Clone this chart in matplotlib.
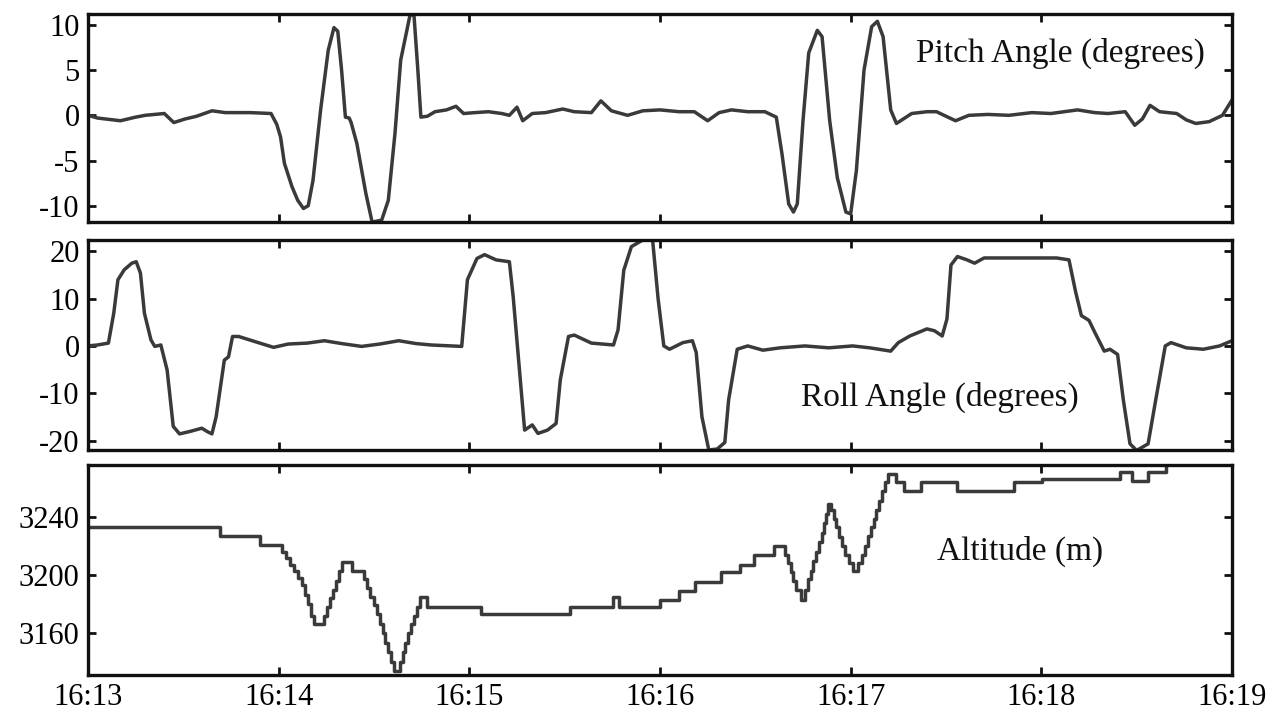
import numpy as np
import pandas as pd
import matplotlib
matplotlib.use("Agg")
import matplotlib.pyplot as plt
import matplotlib.dates as mdates

plt.rcParams['font.family'] = ['Liberation Serif', 'DejaVu Serif']
plt.rcParams['axes.unicode_minus'] = False

# minutes after 16:13 and readings
pitch_t = [0.00, 0.05, 0.17, 0.25, 0.30, 0.40, 0.45, 0.51, 0.57, 0.65, 0.72, 0.85, 0.96, 0.99,
           1.01, 1.03, 1.07, 1.10, 1.13, 1.155, 1.18, 1.22, 1.26, 1.29, 1.31, 1.33, 1.35, 1.37,
           1.38, 1.41, 1.457, 1.49, 1.54, 1.575, 1.61, 1.64, 1.69, 1.71, 1.73, 1.746, 1.78, 1.82,
           1.88, 1.93, 1.97, 2.03, 2.10, 2.17, 2.21, 2.25, 2.28, 2.33, 2.40, 2.49, 2.55, 2.64,
           2.69, 2.745, 2.83, 2.91, 3.00, 3.10, 3.18, 3.25, 3.31, 3.375, 3.46, 3.55, 3.61, 3.64,
           3.675, 3.70, 3.72, 3.75, 3.78, 3.825, 3.85, 3.89, 3.93, 3.975, 4.00, 4.03, 4.07, 4.11,
           4.14, 4.17, 4.21, 4.24, 4.32, 4.40, 4.45, 4.55, 4.62, 4.72, 4.83, 4.95, 5.05, 5.19,
           5.28, 5.35, 5.44, 5.49, 5.53, 5.57, 5.62, 5.71, 5.76, 5.81, 5.88, 5.95, 6.00]
pitch = [0.0, -0.3, -0.6, -0.2, 0.0, 0.2, -0.8, -0.4, -0.1, 0.5, 0.3, 0.3, 0.2, -1.0,
         -2.4, -5.3, -7.9, -9.4, -10.3, -10.0, -7.2, 0.6, 7.2, 9.7, 9.3, 5.0, -0.2, -0.3,
         -0.8, -3.1, -8.6, -11.8, -11.6, -9.4, -2.0, 6.1, 11.2, 11.0, 5.0, -0.2, -0.1, 0.4,
         0.6, 1.0, 0.2, 0.3, 0.4, 0.2, 0.0, 0.9, -0.6, 0.2, 0.3, 0.7, 0.4, 0.3,
         1.6, 0.5, 0.0, 0.5, 0.6, 0.4, 0.4, -0.6, 0.3, 0.6, 0.4, 0.4, -0.2, -4.3,
         -9.8, -10.7, -9.8, -0.6, 6.9, 9.4, 8.7, -0.6, -6.9, -10.7, -10.9, -6.1, 5.0, 9.8,
         10.4, 8.7, 0.6, -0.9, 0.2, 0.4, 0.4, -0.6, 0.0, 0.1, 0.0, 0.3, 0.2, 0.6,
         0.3, 0.2, 0.4, -1.1, -0.4, 1.1, 0.4, 0.2, -0.5, -0.9, -0.7, 0.0, 1.7]

roll_t = [0.00, 0.05, 0.107, 0.135, 0.157, 0.19, 0.23, 0.253, 0.275, 0.296, 0.33, 0.35, 0.382,
          0.415, 0.447, 0.48, 0.533, 0.597, 0.625, 0.65, 0.672, 0.715, 0.737, 0.758, 0.79,
          0.877, 0.973, 1.05, 1.15, 1.24, 1.33, 1.435, 1.53, 1.63, 1.72, 1.80, 1.96, 1.99,
          2.04, 2.08, 2.14, 2.21, 2.23, 2.26, 2.29, 2.33, 2.36, 2.41, 2.455, 2.477, 2.52,
          2.55, 2.64, 2.756, 2.78, 2.81, 2.85, 2.91, 2.96, 2.99, 3.02, 3.05, 3.12, 3.17,
          3.19, 3.22, 3.256, 3.30, 3.34, 3.36, 3.405, 3.46, 3.54, 3.63, 3.76, 3.885, 4.01,
          4.10, 4.21, 4.25, 4.31, 4.40, 4.44, 4.48, 4.505, 4.526, 4.56, 4.61, 4.65, 4.70,
          4.82, 4.95, 5.08, 5.145, 5.18, 5.21, 5.25, 5.28, 5.33, 5.36, 5.40, 5.43, 5.465,
          5.50, 5.56, 5.60, 5.65, 5.68, 5.76, 5.85, 5.935, 6.00]
roll = [0.0, 0.2, 0.6, 6.9, 14.0, 16.1, 17.5, 17.8, 15.4, 6.9, 1.3, -0.1, 0.2,
        -5.1, -17.0, -18.6, -18.1, -17.4, -18.1, -18.6, -15.0, -3.0, -2.3, 2.0, 2.0,
        0.9, -0.3, 0.4, 0.6, 1.1, 0.5, -0.1, 0.4, 1.1, 0.5, 0.2, -0.1, 14.0,
        18.5, 19.3, 18.2, 17.8, 10.4, -3.7, -17.8, -16.7, -18.5, -17.8, -16.4, -7.2, 2.0,
        2.3, 0.6, 0.2, 3.4, 16.0, 21.0, 22.4, 22.9, 10.0, 0.0, -0.7, 0.7, 1.1,
        -1.4, -15.0, -22.0, -21.8, -20.4, -11.4, -0.7, 0.0, -0.9, -0.4, 0.0, -0.4, 0.0,
        -0.4, -1.1, 0.7, 2.1, 3.6, 3.2, 2.1, 5.7, 17.1, 18.9, 18.2, 17.5, 18.6,
        18.6, 18.6, 18.6, 18.2, 11.4, 6.4, 5.4, 2.9, -1.1, -0.7, -1.8, -11.4, -20.7,
        -22.1, -20.7, -11.4, 0.0, 0.7, -0.4, -0.7, 0.0, 1.1]

# altitude holds each value until the next time (stepped readout)
alt_t = [0.0, 0.69, 0.90, 1.02, 1.04, 1.06, 1.08, 1.10, 1.12, 1.14, 1.155, 1.17, 1.185,
         1.24, 1.255, 1.27, 1.285, 1.30, 1.315, 1.33, 1.385, 1.445, 1.465, 1.48, 1.50,
         1.515, 1.53, 1.545, 1.56, 1.575, 1.59, 1.605, 1.635, 1.65, 1.665, 1.68, 1.695,
         1.71, 1.725, 1.74, 1.78, 2.06, 2.53, 2.755, 2.785, 3.0, 3.1, 3.185, 3.32, 3.42,
         3.495, 3.60, 3.655, 3.67, 3.685, 3.70, 3.715, 3.725, 3.74, 3.76, 3.775, 3.79,
         3.805, 3.82, 3.835, 3.85, 3.86, 3.87, 3.88, 3.895, 3.91, 3.925, 3.94, 3.955,
         3.97, 3.99, 4.01, 4.04, 4.06, 4.075, 4.09, 4.105, 4.12, 4.135, 4.15, 4.165,
         4.18, 4.195, 4.24, 4.28, 4.37, 4.56, 4.855, 5.005, 5.41, 5.475, 5.56, 5.655, 6.0]
altitude = [3233, 3227, 3221, 3216, 3212, 3207, 3203, 3198, 3193, 3186, 3180, 3172, 3166,
            3172, 3178, 3184, 3190, 3196, 3203, 3209, 3203, 3197, 3191, 3185, 3179,
            3173, 3166, 3160, 3153, 3147, 3140, 3134, 3140, 3147, 3153, 3160, 3166,
            3172, 3178, 3185, 3178, 3173, 3178, 3185, 3178, 3183, 3189, 3195, 3202, 3207,
            3214, 3220, 3214, 3208, 3202, 3196, 3190, 3190, 3183, 3190, 3197, 3203,
            3210, 3216, 3223, 3229, 3236, 3242, 3249, 3245, 3239, 3233, 3226, 3220,
            3214, 3208, 3203, 3208, 3214, 3220, 3227, 3233, 3239, 3245, 3251, 3258,
            3264, 3270, 3264, 3258, 3264, 3258, 3264, 3266, 3271, 3265, 3271, 3277, 3277]

start = pd.Timestamp('2000-01-01 16:13')
def to_time(t):
    return start + pd.to_timedelta(np.array(t), unit='min')

panels = [
    (pitch_t, pitch, 'Pitch Angle (degrees)', (-11.8, 11.2), [-10, -5, 0, 5, 10], (0.85, 0.81), 'default'),
    (roll_t, roll, 'Roll Angle (degrees)', (-22.0, 22.4), [-20, -10, 0, 10, 20], (0.745, 0.25), 'default'),
    (alt_t, altitude, 'Altitude (m)', (3131, 3276), [3160, 3200, 3240], (0.815, 0.59), 'steps-post'),
]

fig = plt.figure(figsize=(12.8, 7.13), dpi=100)
boxes = [[0.06875, 0.6886, 0.89375, 0.2917],
         [0.06875, 0.3689, 0.89375, 0.2945],
         [0.06875, 0.0533, 0.89375, 0.2945]]

line_col = '#3a3a3a'
for i, (t, v, label, ylim, yt, tpos, ds) in enumerate(panels):
    ax = fig.add_axes(boxes[i])
    ax.plot(to_time(t), v, color=line_col, lw=2.5, drawstyle=ds)
    ax.set_xlim(start, start + pd.Timedelta(minutes=6))
    ax.set_ylim(*ylim)
    ax.set_yticks(yt)
    ax.xaxis.set_major_locator(mdates.MinuteLocator())
    ax.xaxis.set_major_formatter(mdates.DateFormatter('%H:%M'))
    ax.tick_params(direction='in', length=6, width=2, top=True, right=True,
                   labelsize=22, pad=6, color='#111111')
    if i < 2:
        ax.tick_params(labelbottom=False)
    for s in ax.spines.values():
        s.set_linewidth(2.4)
        s.set_color('#111111')
    ax.text(tpos[0], tpos[1], label, transform=ax.transAxes, ha='center', va='center',
            fontsize=24, color='#111111')

fig.savefig('out.png', dpi=100)
